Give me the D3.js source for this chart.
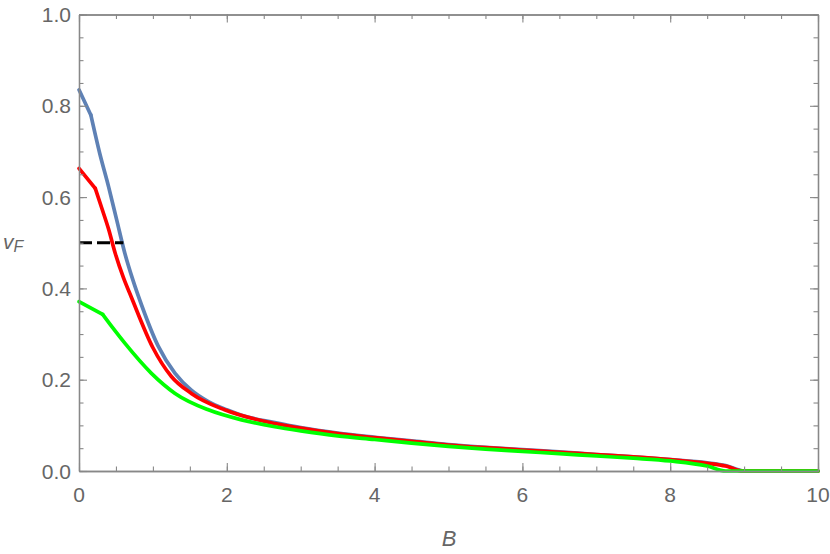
<!DOCTYPE html>
<html>
<head>
<meta charset="utf-8">
<script src="https://cdn.jsdelivr.net/npm/d3@7"></script>
<style>
  body { margin: 0; background: #fff; }
  svg { display: block; }
  .tick-label { font-family: "Liberation Sans", Arial, sans-serif; font-size: 21px; fill: #666; }
  .axis-title { font-family: "Liberation Sans", Arial, sans-serif; font-style: italic; fill: #666; }
</style>
</head>
<body>
<div id="chart"></div>
<script>
// Data
const blueB = [0, 0.16, 0.28, 0.40, 0.51, 0.62, 0.73, 0.85, 1.07, 1.30, 1.52, 1.75, 2.0, 2.2, 2.65, 3.0, 3.5, 4.0, 4.5, 5.0, 5.5, 6.0, 6.5, 7.0, 7.5, 8.0, 8.5, 8.75, 9.0, 10];
const blueV = [0.835, 0.780, 0.696, 0.623, 0.550, 0.477, 0.418, 0.362, 0.274, 0.214, 0.177, 0.152, 0.134, 0.122, 0.106, 0.095, 0.083, 0.074, 0.066, 0.058, 0.052, 0.047, 0.042, 0.036, 0.031, 0.025, 0.018, 0.012, 0.0, 0.0];

const redB = [0, 0.22, 0.31, 0.40, 0.49, 0.60, 0.71, 1.0, 1.25, 1.52, 1.97, 2.65, 3.0, 3.5, 4.0, 4.5, 5.0, 5.5, 6.0, 6.5, 7.0, 7.5, 8.0, 8.5, 8.75, 8.98, 10];
const redV = [0.663, 0.619, 0.575, 0.530, 0.477, 0.424, 0.380, 0.270, 0.207, 0.170, 0.134, 0.104, 0.094, 0.082, 0.073, 0.065, 0.057, 0.051, 0.046, 0.041, 0.036, 0.031, 0.025, 0.017, 0.011, 0.0, 0.0];

const greenB = [0, 0.32, 0.45, 0.62, 0.98, 1.30, 1.75, 2.2, 2.65, 3.0, 3.5, 4.0, 4.5, 5.0, 5.5, 6.0, 6.5, 7.0, 7.5, 8.0, 8.5, 8.75, 10];
const greenV = [0.371, 0.343, 0.315, 0.280, 0.214, 0.170, 0.134, 0.112, 0.097, 0.088, 0.077, 0.069, 0.061, 0.054, 0.048, 0.043, 0.038, 0.033, 0.028, 0.022, 0.011, 0.0, 0.0];

const dashB = [0, 0.6];
const dashV = [0.5, 0.5];

const xTicks = [0, 2, 4, 6, 8, 10];
const yTicks = [0.0, 0.2, 0.4, 0.6, 0.8, 1.0];

const width = 830, height = 554;
const margin = {top: 14.5, right: 12, bottom: 83, left: 79};
const innerW = width - margin.left - margin.right,
      innerH = height - margin.top - margin.bottom;

const x = d3.scaleLinear().domain([0, 10]).range([0, innerW]);
const y = d3.scaleLinear().domain([0, 1]).range([innerH, 0]);

const svg = d3.select("#chart").append("svg")
    .attr("width", width)
    .attr("height", height);

const g = svg.append("g")
    .attr("transform", `translate(${margin.left},${margin.top})`);

// curves: straight first segment (sharp kink), smooth afterwards
const lineStraight = d3.line()
    .x(d => x(d[0]))
    .y(d => y(d[1]));
const lineSmooth = d3.line()
    .x(d => x(d[0]))
    .y(d => y(d[1]))
    .curve(d3.curveMonotoneX);

const series = [
    {b: blueB, v: blueV, color: "#5e81b5"},
    {b: redB, v: redV, color: "#ff0000"},
    {b: greenB, v: greenV, color: "#00ff00"}
];

series.forEach(s => {
    const pts = d3.zip(s.b, s.v);
    const sg = g.append("g")
        .attr("fill", "none")
        .attr("stroke", s.color)
        .attr("stroke-width", 3.7)
        .attr("stroke-linejoin", "round")
        .attr("stroke-linecap", "round");
    sg.append("path").attr("d", lineStraight(pts.slice(0, 2)));
    sg.append("path").attr("d", lineSmooth(pts.slice(1)));
});

g.append("path")
    .datum(d3.zip(dashB, dashV))
    .attr("fill", "none")
    .attr("stroke", "#000")
    .attr("stroke-width", 3)
    .attr("stroke-dasharray", "13,5")
    .attr("d", lineStraight);

// frame with ticks on all four sides
const frameColor = "#888";
const xMinor = d3.range(0, 10.001, 0.5);
const yMinor = d3.range(0, 1.0001, 0.05);

function drawAxis(axis, cls) {
    return g.append("g").attr("class", cls)
        .call(axis)
        .call(a => a.select(".domain").attr("stroke", frameColor).attr("stroke-width", 1.3))
        .call(a => a.selectAll(".tick line").attr("stroke", frameColor).attr("stroke-width", 1.1))
        .call(a => a.selectAll(".tick text").remove());
}

// minor ticks
drawAxis(d3.axisBottom(x).tickValues(xMinor).tickSizeInner(-4.5).tickSizeOuter(0), "xb")
    .attr("transform", `translate(0,${innerH})`);
drawAxis(d3.axisTop(x).tickValues(xMinor).tickSizeInner(-4.5).tickSizeOuter(0), "xt");
drawAxis(d3.axisLeft(y).tickValues(yMinor).tickSizeInner(-4.5).tickSizeOuter(0), "yl");
drawAxis(d3.axisRight(y).tickValues(yMinor).tickSizeInner(-4.5).tickSizeOuter(0), "yr")
    .attr("transform", `translate(${innerW},0)`);

// major ticks
drawAxis(d3.axisBottom(x).tickValues(xTicks).tickSizeInner(-8).tickSizeOuter(0), "xbM")
    .attr("transform", `translate(0,${innerH})`);
drawAxis(d3.axisTop(x).tickValues(xTicks).tickSizeInner(-8).tickSizeOuter(0), "xtM");
drawAxis(d3.axisLeft(y).tickValues(yTicks).tickSizeInner(-8).tickSizeOuter(0), "ylM");
drawAxis(d3.axisRight(y).tickValues(yTicks).tickSizeInner(-8).tickSizeOuter(0), "yrM")
    .attr("transform", `translate(${innerW},0)`);

// tick labels
g.append("g").selectAll("text")
    .data(xTicks)
    .enter().append("text")
    .attr("class", "tick-label")
    .attr("x", d => x(d))
    .attr("y", innerH + 31)
    .attr("text-anchor", "middle")
    .text(d => d);

g.append("g").selectAll("text")
    .data(yTicks)
    .enter().append("text")
    .attr("class", "tick-label")
    .attr("x", -8)
    .attr("y", d => y(d))
    .attr("dy", "0.36em")
    .attr("text-anchor", "end")
    .text(d => d.toFixed(1));

// axis titles
svg.append("text")
    .attr("class", "axis-title")
    .attr("x", 449)
    .attr("y", 546)
    .attr("text-anchor", "middle")
    .style("font-size", "22px")
    .text("B");

const vf = svg.append("text")
    .attr("class", "axis-title")
    .attr("x", 3)
    .attr("y", 249)
    .style("font-size", "21px");
vf.append("tspan").text("v");
vf.append("tspan")
    .attr("dy", 3)
    .style("font-size", "16px")
    .text("F");
</script>
</body>
</html>
